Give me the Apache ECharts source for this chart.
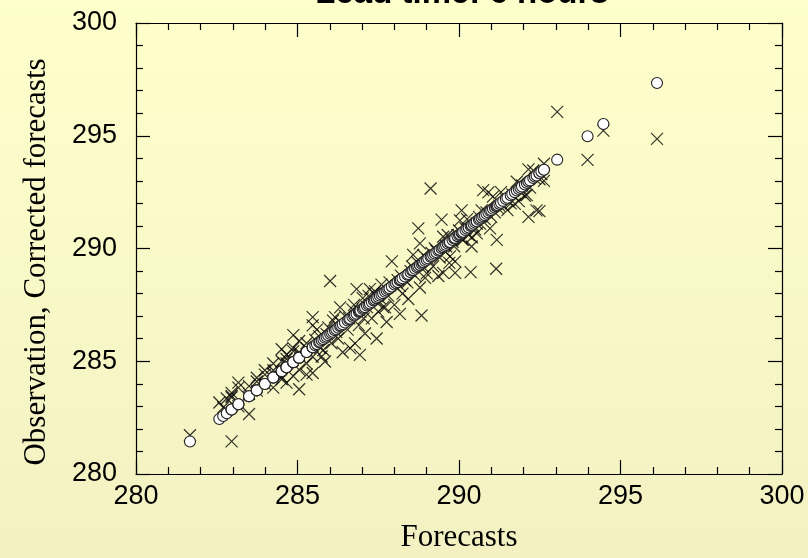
<!DOCTYPE html>
<html>
<head>
<meta charset="utf-8">
<script src="https://cdn.jsdelivr.net/npm/echarts@6/dist/echarts.min.js"></script>
<style>
html,body{margin:0;padding:0;}
#chart{width:808px;height:558px;}
</style>
</head>
<body>
<div id="chart"></div>
<script>
// Forecast values (x)
const forecasts = [281.67,282.58,282.70,282.81,282.96,282.96,282.96,282.96,283.17,283.17,283.17,283.50,283.50,283.50,283.74,283.74,283.74,283.99,283.99,283.99,284.25,284.25,284.25,284.25,284.51,284.51,284.51,284.51,284.66,284.66,284.66,284.66,284.87,284.87,284.87,284.87,285.05,285.05,285.05,285.05,285.05,285.28,285.28,285.28,285.28,285.47,285.47,285.47,285.47,285.55,285.60,285.67,285.70,285.75,285.80,285.85,285.90,285.95,286.01,286.05,286.10,286.16,286.20,286.26,286.32,286.35,286.40,286.47,286.55,286.60,286.63,286.70,286.75,286.78,286.83,286.90,286.93,286.95,287.02,287.05,287.09,287.15,287.20,287.24,287.30,287.36,287.40,287.45,287.45,287.50,287.55,287.60,287.65,287.71,287.76,287.81,287.85,287.92,288.00,288.05,288.10,288.17,288.17,288.20,288.25,288.33,288.40,288.43,288.50,288.55,288.58,288.64,288.70,288.74,288.79,288.79,288.84,288.88,288.90,288.95,289.00,289.05,289.12,289.15,289.20,289.25,289.30,289.36,289.40,289.46,289.51,289.51,289.55,289.60,289.65,289.70,289.72,289.80,289.85,289.88,289.88,289.95,290.00,290.03,290.08,290.10,290.13,290.20,290.25,290.30,290.36,290.39,290.40,290.45,290.50,290.55,290.55,290.62,290.65,290.70,290.75,290.80,290.85,290.91,290.96,291.00,291.05,291.11,291.15,291.17,291.20,291.25,291.30,291.37,291.45,291.50,291.60,291.65,291.73,291.79,291.85,291.90,291.95,292.04,292.10,292.15,292.15,292.20,292.30,292.35,292.40,292.49,292.49,292.55,292.63,292.63,293.04,293.98,294.47,296.13];
// Observations (crosses, y)
const observations = [281.72,283.17,282.95,283.35,283.46,281.45,283.40,283.60,284.05,283.83,283.00,283.55,282.66,283.90,284.10,284.27,283.70,284.60,284.41,284.00,284.45,284.60,283.83,284.90,284.20,285.53,285.00,284.30,284.05,284.90,285.30,285.10,285.45,286.16,285.58,284.34,285.40,285.28,284.63,283.76,285.90,284.90,285.80,285.58,284.41,286.96,286.59,285.20,284.48,285.95,286.40,286.10,285.60,285.21,285.50,284.99,286.20,286.50,288.56,285.80,286.80,286.96,286.30,286.01,287.39,286.70,285.40,287.00,286.40,286.90,285.58,287.30,287.50,285.79,288.20,286.60,285.28,287.20,287.80,286.90,286.23,287.40,287.90,288.20,286.90,288.00,288.10,286.01,287.61,287.20,287.80,288.40,287.40,287.39,286.74,287.90,288.50,289.43,287.50,288.30,288.60,288.34,287.10,288.80,288.00,288.60,288.50,287.76,289.00,289.20,289.72,288.80,289.40,290.89,290.23,288.27,287.03,289.20,289.70,288.70,288.90,289.50,292.66,289.80,289.21,290.00,289.90,288.78,289.60,291.28,288.92,290.52,289.90,290.10,290.60,289.36,289.65,290.30,290.10,289.43,288.92,290.60,290.80,291.25,291.69,290.40,290.38,290.90,291.30,290.60,288.95,290.09,290.50,291.00,290.85,290.67,291.11,291.40,291.10,291.69,292.59,291.30,291.60,292.49,290.89,291.40,292.30,291.60,289.10,290.38,291.80,291.90,292.50,291.91,292.20,291.70,292.00,292.40,291.98,292.96,292.10,292.50,292.80,292.34,292.37,293.51,291.40,292.70,293.46,293.10,291.69,293.07,291.66,293.30,293.76,293.00,296.06,293.93,295.23,294.86];
// Corrected forecasts (circles, y)
const corrected = [281.44,282.44,282.57,282.69,282.86,282.86,282.86,282.86,283.09,283.09,283.09,283.45,283.45,283.45,283.71,283.71,283.71,283.99,283.99,283.99,284.28,284.28,284.28,284.28,284.56,284.56,284.56,284.56,284.73,284.73,284.73,284.73,284.96,284.96,284.96,284.96,285.16,285.16,285.16,285.16,285.16,285.41,285.41,285.41,285.41,285.62,285.62,285.62,285.62,285.71,285.76,285.84,285.87,285.93,285.98,286.04,286.09,286.15,286.21,286.26,286.31,286.38,286.42,286.49,286.55,286.59,286.64,286.72,286.81,286.86,286.89,286.97,287.03,287.06,287.11,287.19,287.22,287.25,287.32,287.36,287.40,287.47,287.52,287.56,287.63,287.70,287.74,287.80,287.80,287.85,287.91,287.96,288.02,288.08,288.14,288.19,288.24,288.31,288.40,288.46,288.51,288.59,288.59,288.62,288.68,288.76,288.84,288.87,288.95,289.01,289.04,289.10,289.17,289.21,289.27,289.27,289.32,289.37,289.39,289.45,289.50,289.56,289.63,289.67,289.72,289.78,289.83,289.90,289.94,290.01,290.06,290.06,290.11,290.16,290.22,290.27,290.29,290.38,290.44,290.47,290.47,290.55,290.60,290.63,290.69,290.71,290.74,290.82,290.88,290.93,291.00,291.03,291.04,291.10,291.15,291.21,291.21,291.28,291.32,291.37,291.43,291.48,291.54,291.60,291.66,291.70,291.76,291.82,291.87,291.89,291.92,291.98,292.03,292.11,292.20,292.25,292.36,292.42,292.50,292.57,292.64,292.69,292.75,292.84,292.91,292.97,292.97,293.02,293.13,293.19,293.24,293.34,293.34,293.41,293.49,293.49,293.94,294.98,295.52,297.34];

const axisMin = 280, axisMax = 300, axisStep = 5;
const titleText = 'Lead time: 6 hours';
const xName = 'Forecasts';
const yName = 'Observation, Corrected forecasts';

const obsPts = forecasts.map((f, i) => [f, observations[i]]);
const corPts = forecasts.map((f, i) => [f, corrected[i]]);

const chart = echarts.init(document.getElementById('chart'), null, {renderer: 'canvas'});

function baseAxis(extra) {
  return Object.assign({
    type: 'value', min: axisMin, max: axisMax, interval: axisStep,
    axisLine: {show: true, onZero: false, lineStyle: {color: '#000', width: 1.2}},
    axisTick: {show: true, inside: true, length: 14, lineStyle: {color: '#000', width: 1.2}},
    minorTick: {show: true, splitNumber: 5, length: 7, lineStyle: {color: '#000', width: 1.2}},
    splitLine: {show: false},
    minorSplitLine: {show: false}
  }, extra);
}
const labelStyle = {color: '#000', fontFamily: 'Liberation Sans', fontSize: 27};
const nameStyle = {color: '#000', fontFamily: 'Liberation Serif', fontSize: 31};

chart.setOption({
  animation: false,
  backgroundColor: {
    type: 'linear', x: 0, y: 0, x2: 0, y2: 1,
    colorStops: [{offset: 0, color: '#FFFFCC'}, {offset: 1, color: '#F3F1C2'}]
  },
  graphic: [{
    type: 'text', x: 462, y: -23,
    style: {text: titleText, font: 'bold 33px "Liberation Sans"', fill: '#000',
      textAlign: 'center', textVerticalAlign: 'top'}
  }, {
    type: 'text', x: 37, y: 262, rotation: Math.PI / 2,
    style: {text: yName, font: '31px "Liberation Serif"', fill: '#000',
      textAlign: 'center', textVerticalAlign: 'middle'}
  }],
  grid: {left: 136, top: 23, right: 26, bottom: 77},
  xAxis: [
    baseAxis({position: 'bottom', name: xName, nameLocation: 'middle', nameGap: 48,
      nameTextStyle: nameStyle,
      axisLabel: Object.assign({margin: 9}, labelStyle)}),
    baseAxis({position: 'top', axisLabel: {show: false}})
  ],
  yAxis: [
    baseAxis({position: 'left',
      axisLabel: Object.assign({margin: 19}, labelStyle)}),
    baseAxis({position: 'right', axisLabel: {show: false}})
  ],
  series: [
    {
      type: 'scatter', xAxisIndex: 0, yAxisIndex: 0, data: obsPts,
      symbol: 'path://M0,0L10,10M10,0L0,10', symbolSize: 12,
      itemStyle: {color: 'rgba(0,0,0,0)', borderColor: '#000', borderWidth: 1.2},
      z: 2
    },
    {
      type: 'scatter', xAxisIndex: 0, yAxisIndex: 0, data: corPts,
      symbol: 'circle', symbolSize: 11,
      itemStyle: {color: '#fff', borderColor: '#222', borderWidth: 1.1, opacity: 1},
      z: 3
    }
  ]
});
</script>
</body>
</html>
